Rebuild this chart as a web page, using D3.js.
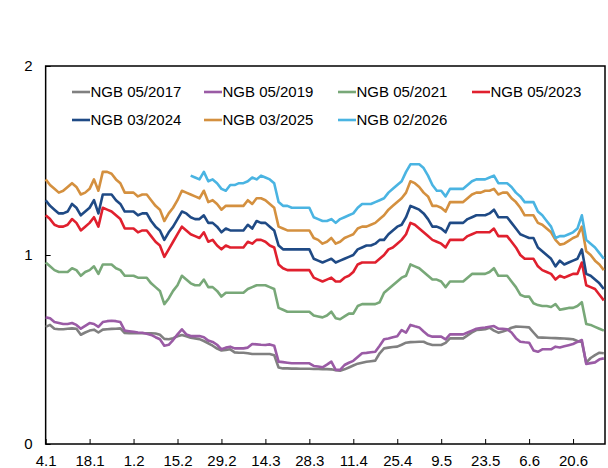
<!DOCTYPE html>
<html>
<head>
<meta charset="utf-8">
<script src="https://cdn.jsdelivr.net/npm/d3@7"></script>
<style>
  body { margin: 0; background: #fff; }
  svg { display: block; font-family: "Liberation Sans", Arial, sans-serif; }
  .axis text { font-size: 15px; fill: #000; }
  .axis line { stroke: #000; stroke-width: 1; }
  .legend text { font-size: 15px; fill: #000; }
</style>
</head>
<body>
<div id="chart"></div>
<script>
// Series names and colours
var seriesNames = ["NGB 05/2017", "NGB 05/2019", "NGB 05/2021", "NGB 05/2023", "NGB 03/2024", "NGB 03/2025", "NGB 02/2026"];
var seriesColors = ["#808080", "#9a5ba5", "#78a878", "#e0202e", "#1f4a85", "#d4903f", "#4ab4e2"];

// x axis labels, one every 10 trading days (4.1 = 4 January)
var tickLabels = ["4.1", "18.1", "1.2", "15.2", "29.2", "14.3", "28.3", "11.4", "25.4", "9.5", "23.5", "6.6", "20.6"];
var tickStep = 10;

var ngb0517 = [
  0.62,0.63,0.61,0.607,0.607,0.61,0.612,0.61,0.578,0.59,
  0.60,0.605,0.59,0.605,0.607,0.609,0.61,0.612,0.587,0.586,
  0.586,0.586,0.586,0.586,0.586,0.585,0.578,0.556,0.554,0.56,
  0.57,0.577,0.57,0.562,0.559,0.555,0.545,0.533,0.52,0.505,
  0.495,0.498,0.501,0.485,0.483,0.483,0.48,0.476,0.476,0.476,
  0.476,0.476,0.47,0.405,0.40,0.40,0.399,0.399,0.398,0.398,
  0.398,0.397,0.397,0.396,0.396,0.395,0.39,0.388,0.395,0.405,
  0.415,0.425,0.43,0.435,0.438,0.441,0.48,0.506,0.51,0.513,
  0.515,0.525,0.536,0.539,0.54,0.541,0.541,0.53,0.524,0.524,
  0.524,0.535,0.559,0.559,0.559,0.559,0.575,0.59,0.603,0.605,
  0.607,0.615,0.60,0.589,0.595,0.603,0.615,0.621,0.62,0.619,
  0.617,0.59,0.564,0.563,0.562,0.561,0.56,0.559,0.558,0.556,
  0.554,0.545,0.54,0.43,0.455,0.47,0.483,0.48
];

var ngb0519 = [
  0.67,0.665,0.645,0.64,0.635,0.635,0.64,0.63,0.61,0.625,
  0.64,0.635,0.62,0.645,0.65,0.652,0.65,0.645,0.60,0.597,
  0.594,0.59,0.589,0.583,0.577,0.565,0.554,0.52,0.525,0.55,
  0.58,0.607,0.58,0.571,0.571,0.571,0.565,0.547,0.54,0.525,
  0.501,0.51,0.515,0.506,0.506,0.506,0.51,0.529,0.527,0.525,
  0.524,0.527,0.52,0.436,0.433,0.43,0.427,0.427,0.427,0.427,
  0.427,0.413,0.41,0.406,0.42,0.436,0.392,0.392,0.418,0.43,
  0.44,0.46,0.48,0.482,0.485,0.488,0.52,0.554,0.558,0.565,
  0.57,0.603,0.589,0.63,0.623,0.617,0.595,0.575,0.568,0.568,
  0.568,0.554,0.58,0.58,0.58,0.58,0.59,0.60,0.61,0.614,
  0.616,0.62,0.624,0.61,0.609,0.607,0.59,0.56,0.541,0.538,
  0.536,0.495,0.488,0.501,0.501,0.501,0.515,0.511,0.517,0.523,
  0.529,0.54,0.55,0.423,0.428,0.432,0.448,0.453
];

var ngb0521 = [
  0.96,0.94,0.92,0.91,0.91,0.91,0.93,0.92,0.89,0.91,
  0.92,0.94,0.90,0.95,0.95,0.95,0.93,0.92,0.89,0.89,
  0.89,0.88,0.88,0.88,0.85,0.83,0.81,0.74,0.77,0.81,
  0.84,0.89,0.87,0.85,0.84,0.84,0.87,0.83,0.83,0.81,
  0.78,0.80,0.80,0.80,0.80,0.80,0.82,0.83,0.84,0.84,
  0.84,0.83,0.82,0.72,0.71,0.70,0.70,0.70,0.70,0.70,
  0.70,0.68,0.675,0.67,0.68,0.70,0.665,0.66,0.675,0.69,
  0.69,0.73,0.74,0.74,0.74,0.74,0.75,0.80,0.82,0.84,
  0.86,0.88,0.89,0.95,0.94,0.93,0.91,0.89,0.87,0.87,
  0.86,0.83,0.86,0.86,0.86,0.86,0.88,0.90,0.90,0.90,
  0.90,0.91,0.93,0.89,0.89,0.89,0.86,0.83,0.79,0.78,
  0.78,0.745,0.735,0.73,0.73,0.725,0.74,0.71,0.715,0.72,
  0.72,0.73,0.75,0.635,0.63,0.62,0.61,0.60
];

var ngb0523 = [
  1.21,1.19,1.16,1.15,1.15,1.16,1.19,1.17,1.13,1.15,
  1.17,1.20,1.15,1.25,1.24,1.23,1.21,1.19,1.14,1.14,
  1.14,1.12,1.13,1.13,1.10,1.07,1.05,0.99,1.03,1.07,
  1.11,1.15,1.13,1.11,1.10,1.09,1.12,1.07,1.08,1.05,
  1.03,1.05,1.04,1.04,1.04,1.04,1.07,1.06,1.08,1.08,
  1.07,1.05,1.04,0.95,0.93,0.92,0.92,0.92,0.92,0.92,
  0.92,0.88,0.87,0.86,0.87,0.88,0.86,0.86,0.88,0.89,
  0.91,0.95,0.96,0.96,0.96,0.96,0.98,1.00,1.03,1.04,
  1.06,1.08,1.11,1.17,1.16,1.14,1.12,1.10,1.08,1.07,
  1.06,1.04,1.08,1.08,1.08,1.08,1.10,1.11,1.12,1.12,
  1.12,1.12,1.14,1.10,1.10,1.10,1.07,1.04,1.00,0.98,
  0.98,0.98,0.94,0.92,0.91,0.90,0.87,0.89,0.88,0.89,
  0.90,0.90,0.96,0.84,0.83,0.82,0.79,0.76
];

var ngb0324 = [
  1.29,1.26,1.24,1.22,1.22,1.23,1.27,1.25,1.21,1.23,
  1.25,1.29,1.22,1.32,1.32,1.32,1.29,1.27,1.23,1.23,
  1.23,1.21,1.22,1.22,1.18,1.15,1.13,1.08,1.12,1.15,
  1.19,1.23,1.22,1.20,1.19,1.19,1.21,1.17,1.17,1.15,
  1.12,1.14,1.13,1.13,1.13,1.13,1.16,1.14,1.18,1.17,
  1.17,1.15,1.13,1.05,1.03,1.03,1.03,1.03,1.03,1.03,
  1.03,0.98,0.97,0.96,0.97,0.98,0.96,0.97,0.98,0.99,
  1.00,1.03,1.04,1.05,1.05,1.06,1.08,1.08,1.11,1.13,
  1.15,1.16,1.20,1.26,1.25,1.24,1.22,1.19,1.15,1.15,
  1.14,1.12,1.17,1.17,1.17,1.17,1.19,1.20,1.21,1.21,
  1.21,1.22,1.24,1.20,1.20,1.20,1.17,1.14,1.11,1.10,
  1.09,1.09,1.04,1.02,1.00,0.98,0.94,0.97,0.95,0.96,
  0.97,0.98,1.03,0.90,0.89,0.87,0.85,0.82
];

var ngb0325 = [
  1.40,1.37,1.35,1.33,1.34,1.36,1.38,1.36,1.32,1.33,
  1.35,1.40,1.34,1.44,1.44,1.43,1.40,1.38,1.33,1.33,
  1.33,1.31,1.32,1.32,1.29,1.26,1.24,1.18,1.22,1.25,
  1.29,1.34,1.33,1.32,1.31,1.30,1.34,1.28,1.29,1.27,
  1.24,1.26,1.26,1.26,1.26,1.26,1.29,1.27,1.30,1.30,
  1.29,1.27,1.25,1.15,1.14,1.13,1.13,1.13,1.13,1.13,
  1.13,1.09,1.08,1.06,1.07,1.09,1.06,1.07,1.09,1.10,
  1.11,1.14,1.15,1.15,1.16,1.17,1.19,1.21,1.24,1.26,
  1.28,1.30,1.33,1.39,1.38,1.36,1.33,1.31,1.26,1.26,
  1.25,1.23,1.28,1.28,1.28,1.28,1.30,1.32,1.33,1.33,
  1.34,1.34,1.35,1.32,1.33,1.33,1.30,1.28,1.25,1.21,
  1.21,1.21,1.17,1.16,1.14,1.12,1.08,1.055,1.06,1.075,
  1.09,1.10,1.15,1.02,1.00,0.97,0.95,0.92
];

// NGB 02/2026 starts trading later, at index 33
var ngb0226Start = 33;
var ngb0226 = [
  1.42,1.41,1.40,1.44,1.39,1.40,1.38,1.35,1.34,1.37,
  1.37,1.38,1.38,1.39,1.41,1.40,1.42,1.41,1.40,1.38,
  1.28,1.26,1.26,1.25,1.25,1.25,1.25,1.25,1.20,1.19,
  1.18,1.18,1.19,1.17,1.19,1.20,1.21,1.22,1.25,1.27,
  1.27,1.27,1.28,1.29,1.30,1.33,1.35,1.37,1.39,1.44,
  1.48,1.48,1.48,1.46,1.42,1.37,1.34,1.34,1.31,1.35,
  1.35,1.35,1.35,1.37,1.39,1.40,1.40,1.40,1.41,1.42,
  1.38,1.38,1.38,1.36,1.33,1.31,1.28,1.28,1.28,1.23,
  1.21,1.18,1.15,1.09,1.10,1.10,1.11,1.12,1.14,1.21,
  1.08,1.06,1.04,1.01,0.98
];

var allSeries = [ngb0517, ngb0519, ngb0521, ngb0523, ngb0324, ngb0325, ngb0226];
var seriesStart = [0, 0, 0, 0, 0, 0, ngb0226Start];
var nPoints = ngb0517.length;

// Setup
var width = 608, height = 468;
var plot = { left: 45.65, top: 66, right: 605, bottom: 444 };

var svg = d3.select("#chart").append("svg")
  .attr("width", width)
  .attr("height", height);

var xScale = d3.scaleLinear()
  .domain([0, nPoints - 1])
  .range([plot.left, plot.left + 4.395 * (nPoints - 1)]);

var yScale = d3.scaleLinear()
  .domain([0, 2])
  .range([plot.bottom, plot.top]);

// Frame
svg.append("rect")
  .attr("x", plot.left)
  .attr("y", plot.top)
  .attr("width", plot.right - plot.left)
  .attr("height", plot.bottom - plot.top)
  .attr("fill", "none")
  .attr("stroke", "#000")
  .attr("stroke-width", 1.5);

// Axes
var xAxis = d3.axisBottom(xScale)
  .tickValues(tickLabels.map((d, i) => i * tickStep))
  .tickFormat((d, i) => tickLabels[i])
  .tickSizeInner(-5)
  .tickSizeOuter(0)
  .tickPadding(11);

svg.append("g")
  .attr("class", "x axis")
  .attr("transform", "translate(0," + plot.bottom + ")")
  .call(xAxis)
  .call(g => g.select(".domain").remove());

var yAxis = d3.axisLeft(yScale)
  .tickValues([0, 1, 2])
  .tickFormat(d3.format("d"))
  .tickSizeInner(-5)
  .tickSizeOuter(0)
  .tickPadding(13);

svg.append("g")
  .attr("class", "y axis")
  .attr("transform", "translate(" + plot.left + ",0)")
  .call(yAxis)
  .call(g => g.select(".domain").remove());

// Lines
var line = d3.line()
  .x(d => xScale(d.i))
  .y(d => yScale(d.v));

svg.append("g")
  .attr("class", "lines")
  .selectAll("path")
  .data(allSeries.map((s, k) => s.map((v, j) => ({ i: j + seriesStart[k], v: v }))))
  .enter()
  .append("path")
  .attr("d", line)
  .attr("fill", "none")
  .attr("stroke", (d, k) => seriesColors[k])
  .attr("stroke-width", 2.6)
  .attr("stroke-linejoin", "round");

// Legend
var legendCols = [72, 204, 338, 472];
var legendRows = [92, 120];

var legendItem = svg.append("g")
  .attr("class", "legend")
  .selectAll("g")
  .data(seriesNames)
  .enter()
  .append("g")
  .attr("transform", (d, i) => "translate(" + legendCols[i % 4] + "," + legendRows[Math.floor(i / 4)] + ")");

legendItem.append("line")
  .attr("x1", 0)
  .attr("x2", 18)
  .attr("stroke", (d, i) => seriesColors[i])
  .attr("stroke-width", 2.6);

legendItem.append("text")
  .attr("x", 18.5)
  .attr("y", 5.3)
  .text(d => d);
</script>
</body>
</html>
